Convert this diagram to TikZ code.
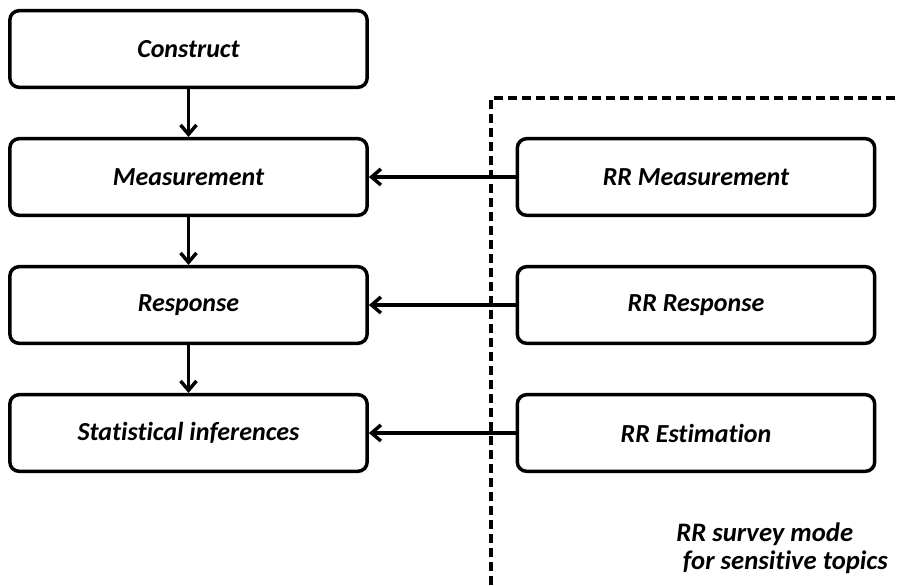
\documentclass[tikz,border=0pt]{standalone}
\usepackage{fontspec}
\setmainfont[Ligatures=NoCommon]{Carlito}
\usetikzlibrary{arrows.meta}
\begin{document}
\begin{tikzpicture}[x=0.75pt,y=-0.75pt,
  box/.style={draw,line width=2.6pt,rounded corners=7pt,minimum width=268pt,minimum height=57.5pt,
    font=\fontsize{19.5}{23}\selectfont\bfseries\itshape,inner sep=0pt},
  link/.style={line width=2.6pt,-{Straight Barb[length=7pt,width=12pt,line width=2.6pt]}},
  zone/.style={line width=2.4pt,dash pattern=on 7pt off 3.5pt}]
  \useasboundingbox (0,0) rectangle (898,585);
  % left column
  \node[box] (con) at (188.5,49) {Construct};
  \node[box] (mea) at (188.5,177) {Measurement};
  \node[box] (res) at (188.5,305) {Response};
  \node[box] (sta) at (188.5,433) {Statistical inferences};
  % right column
  \node[box] (rrm) at (696,177) {RR Measurement};
  \node[box] (rrr) at (696,305) {RR Response};
  \node[box] (rre) at (696,433) {RR Estimation};
  % dashed region
  \coordinate (zb) at (491,585);
  \coordinate (zc) at (491,98);
  \coordinate (ze) at (898,98);
  \draw[zone] (zb) -- (zc) -- (ze);
  % connectors
  \draw[link] (con) -- (mea);
  \draw[link] (mea) -- (res);
  \draw[link] (res) -- (sta);
  \draw[link] (rrm) -- (mea);
  \draw[link] (rrr) -- (res);
  \draw[link] (rre) -- (sta);
  % caption
  \node[font=\fontsize{20}{20.5}\selectfont\bfseries\itshape,align=left,inner sep=0pt,anchor=north west] (cap) at (676,523)
    {RR survey mode\\\hspace*{5pt}for sensitive topics};
\end{tikzpicture}
\end{document}
